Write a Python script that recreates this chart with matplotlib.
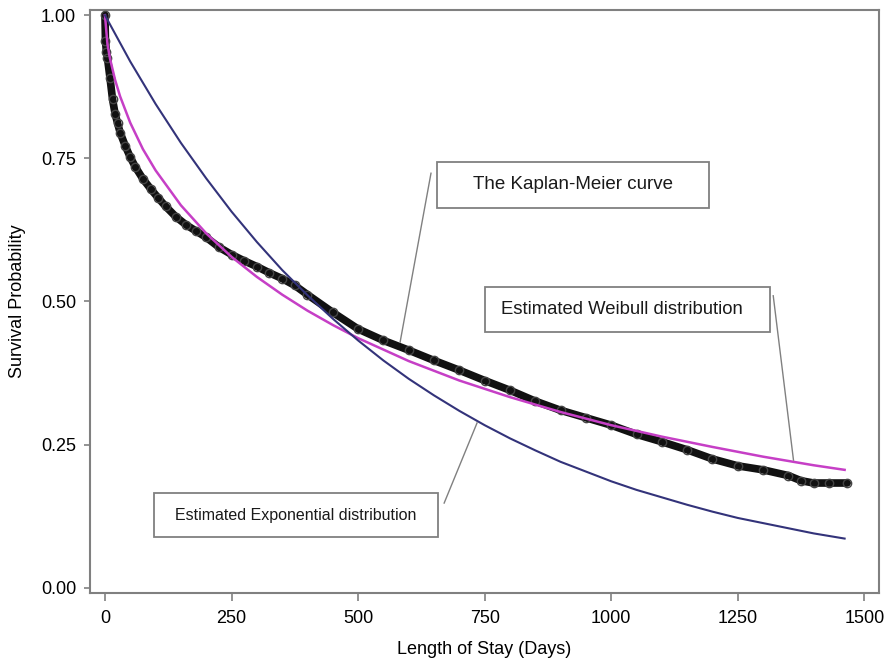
import numpy as np
import matplotlib
matplotlib.use('Agg')
import matplotlib.pyplot as plt
from matplotlib.patches import Rectangle

plt.rcParams['font.family'] = ['Liberation Sans', 'DejaVu Sans']

# Kaplan-Meier estimate
km_days = [0, 1, 3, 5, 10, 15, 20, 25, 30, 40, 50, 60, 75, 90, 105, 120, 140,
           160, 180, 200, 225, 250, 275, 300, 325, 350, 375, 400, 450, 500,
           550, 600, 650, 700, 750, 800, 850, 900, 950, 1000, 1050, 1100,
           1150, 1200, 1250, 1300, 1350, 1375, 1400, 1430, 1466]
km_surv = [1.000, 0.955, 0.935, 0.925, 0.890, 0.853, 0.828, 0.811, 0.795,
           0.772, 0.752, 0.735, 0.714, 0.697, 0.681, 0.666, 0.648, 0.634,
           0.623, 0.612, 0.595, 0.582, 0.571, 0.561, 0.550, 0.540, 0.528,
           0.512, 0.481, 0.452, 0.432, 0.415, 0.397, 0.380, 0.362, 0.345,
           0.326, 0.310, 0.297, 0.284, 0.268, 0.255, 0.241, 0.225, 0.213,
           0.206, 0.196, 0.187, 0.183, 0.183, 0.183]

# Estimated Weibull distribution
wb_days = [0, 5, 10, 20, 30, 50, 75, 100, 150, 200, 250, 300, 350, 400, 450,
           500, 600, 700, 800, 900, 1000, 1100, 1200, 1300, 1400, 1461]
wb_surv = [1.000, 0.949, 0.924, 0.887, 0.858, 0.812, 0.766, 0.729, 0.668,
           0.619, 0.578, 0.543, 0.512, 0.484, 0.459, 0.436, 0.396, 0.362,
           0.333, 0.307, 0.284, 0.264, 0.246, 0.229, 0.214, 0.206]

# Estimated Exponential distribution
ex_days = [0, 50, 100, 150, 200, 250, 300, 350, 400, 450, 500, 550, 600, 650,
           700, 750, 800, 850, 900, 950, 1000, 1050, 1100, 1150, 1200, 1250,
           1300, 1350, 1400, 1461]
ex_surv = [1.000, 0.919, 0.845, 0.777, 0.715, 0.657, 0.604, 0.555, 0.511,
           0.470, 0.432, 0.397, 0.365, 0.336, 0.309, 0.284, 0.261, 0.240,
           0.220, 0.203, 0.186, 0.171, 0.158, 0.145, 0.133, 0.122, 0.113,
           0.104, 0.095, 0.086]

x_ticks = [0, 250, 500, 750, 1000, 1250, 1500]
y_ticks = [0.00, 0.25, 0.50, 0.75, 1.00]

grey = '#808080'

fig = plt.figure(figsize=(8.89, 6.59), dpi=100)
ax = fig.add_axes([0.1012, 0.1002, 0.8876, 0.8846])

ax.plot(km_days, km_surv, color='#111111', lw=5.5, solid_capstyle='round', zorder=3)
ax.plot(km_days, km_surv, 'o', mfc='none', mec='#444444', ms=6, mew=1, zorder=3)
ax.plot(wb_days, wb_surv, color='#c63fc6', lw=1.8, zorder=4)
ax.plot(ex_days, ex_surv, color='#33337a', lw=1.5, zorder=4)

ax.set_xlim(-29.6, 1529)
ax.set_ylim(-0.009, 1.009)
ax.set_xticks(x_ticks)
ax.set_yticks(y_ticks)
ax.set_yticklabels(['%.2f' % v for v in y_ticks])
ax.tick_params(labelsize=13, colors=grey, labelcolor='black', width=1.2)
ax.tick_params(axis='x', length=6, pad=6)
ax.tick_params(axis='y', length=4, pad=6)
for s in ax.spines.values():
    s.set_color(grey)
    s.set_linewidth(1.5)

ax.set_xlabel('Length of Stay (Days)', fontsize=13, labelpad=10)
ax.set_ylabel('Survival Probability', fontsize=13, labelpad=11)

# annotation boxes with leader lines
boxes = [
    ('The Kaplan-Meier curve', 655.5, 0.664, 536.8, 0.079, 924, 13.5,
     (644, 0.724), (583, 0.429)),
    ('Estimated Weibull distribution', 751, 0.447, 563, 0.078, 1021, 13.3,
     (1320, 0.510), (1360, 0.223)),
    ('Estimated Exponential distribution', 96.8, 0.088, 560.7, 0.078, 377, 11.5,
     (670, 0.148), (735, 0.288)),
]
for txt, x0, y0, w, h, xt, fs, p1, p2 in boxes:
    ax.add_patch(Rectangle((x0, y0), w, h, fill=False, ec=grey, lw=1.3, zorder=5))
    ax.text(xt, y0 + h / 2, txt, ha='center', va='center',
            fontsize=fs, color='#1a1a1a', zorder=6)
    ax.plot([p1[0], p2[0]], [p1[1], p2[1]], color=grey, lw=1.0, zorder=5)

fig.savefig('out.png', dpi=100)
